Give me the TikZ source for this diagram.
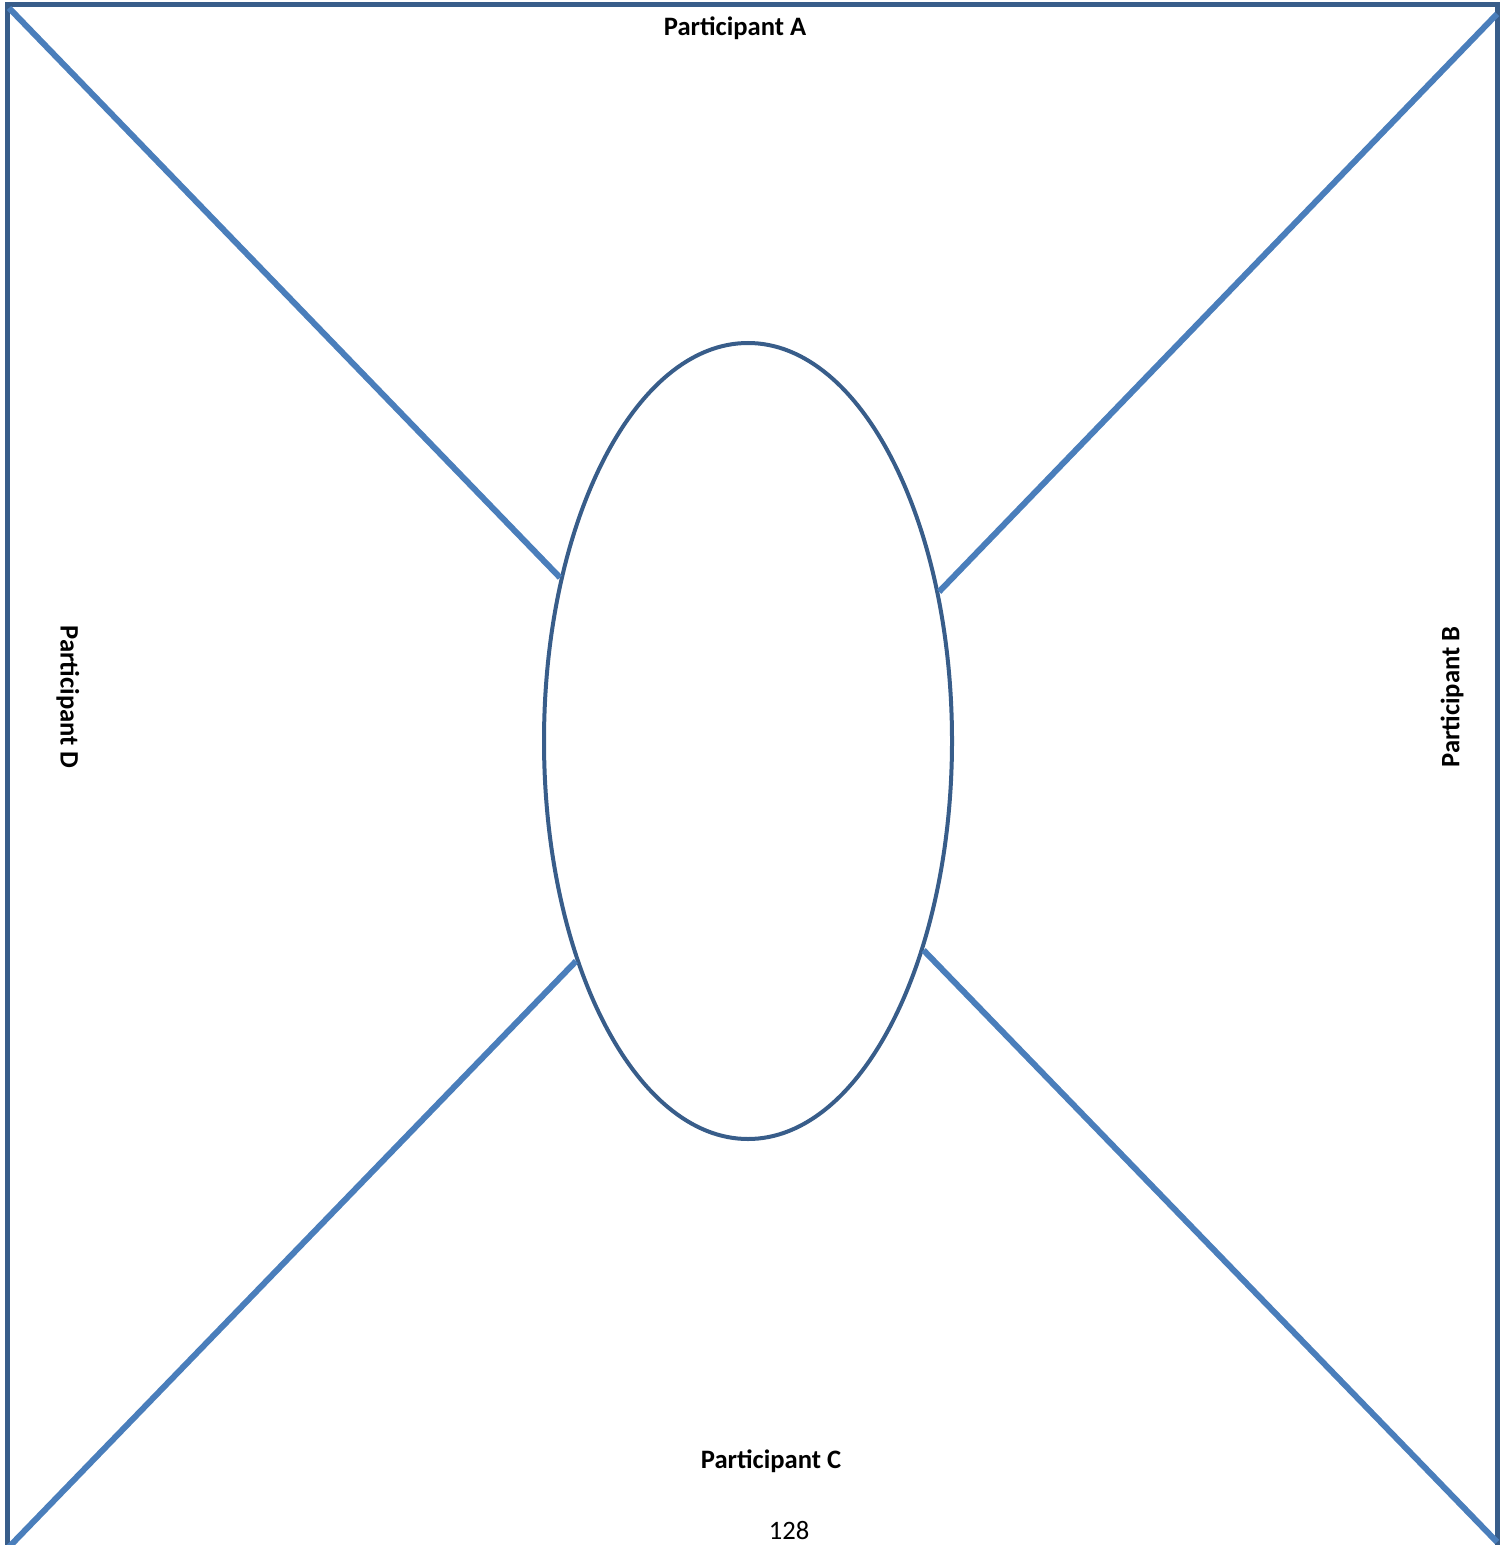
\documentclass[tikz,border=0pt]{standalone}
\usepackage{fontspec}
\setmainfont{Carlito}
\usetikzlibrary{shapes.geometric}
\definecolor{framedark}{HTML}{385D8A}
\definecolor{spokeblue}{HTML}{4A7EBB}

\begin{document}
\begin{tikzpicture}[x=0.5pt, y=-0.5pt,
    partlabel/.style={font=\bfseries\fontsize{13.3}{16}\selectfont, inner sep=0pt},
    spoke/.style={spokeblue, line width=3pt}]
  \useasboundingbox (0,0) rectangle (1510,1545);
  \clip (0,0) rectangle (1510,1545);

  % frame, open at the bottom
  \draw[framedark, line width=2.5pt] (7,1570) -- (7,5) -- (1497,5) -- (1497,1570);

  \coordinate (tl) at (9,8);
  \coordinate (tr) at (1497,14);
  \coordinate (bl) at (8,1548);
  \coordinate (br) at (1497,1542);

  \node[ellipse, draw=framedark, line width=2pt, inner sep=0pt,
        minimum width=204pt, minimum height=398pt] (hub) at (748,741) {};

  \draw[spoke] (tl) -- (hub.139);
  \draw[spoke] (tr) -- (hub.38);
  \draw[spoke] (bl) -- (hub.232);
  \draw[spoke] (br) -- (hub.310);

  \node[partlabel] (pa) at (735,28) {Participant A};
  \node[partlabel, rotate=90] (pb) at (1452,697) {Participant B};
  \node[partlabel] (pc) at (771,1461) {Participant C};
  \node[partlabel, rotate=-90] (pd) at (68,697) {Participant D};
  \node[font=\fontsize{13.3}{16}\selectfont, inner sep=0pt, anchor=base] (pg) at (789,1539) {128};
\end{tikzpicture}
\end{document}
